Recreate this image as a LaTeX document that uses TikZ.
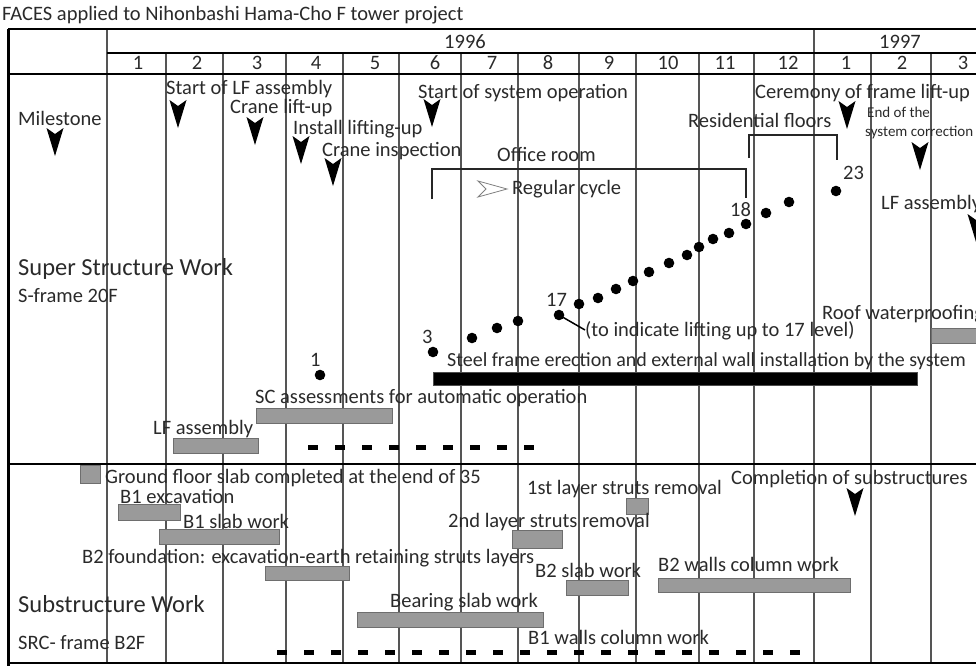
\documentclass[tikz,border=0pt]{standalone}
\usepackage{fontspec}
\setmainfont{Carlito}
\definecolor{barfill}{HTML}{9A9A9A}
\definecolor{barline}{HTML}{6E6E6E}
\definecolor{gridc}{HTML}{555555}
\definecolor{txt}{HTML}{2A2A2A}
\tikzset{
  lbl/.style={anchor=west, inner sep=0pt, text=txt, font=\fontsize{20.5}{24}\selectfont, text height=13.2pt, text depth=0pt},
  ctr/.style={lbl, anchor=center},
  big/.style={lbl, font=\fontsize{24.5}{28}\selectfont, text height=15.8pt},
  small/.style={lbl, font=\fontsize{15}{17}\selectfont, text height=9.7pt},
  gbar/.style={fill=barfill, draw=barline, line width=0.8pt},
  bbar/.style={fill=black, draw=black!70, line width=0.6pt},
  gridv/.style={draw=gridc, line width=1.1pt},
  tabline/.style={draw=black, line width=2.4pt},
  dotn/.style={circle, fill=black, inner sep=0pt, minimum size=10.6pt},
  dashbar/.style={draw=black, line width=5pt, dash pattern=on 10pt off 17pt},
  brk/.style={draw=black!85, line width=1.3pt},
  msarrow/.pic={\fill[black] (-8.5,0) -- (0,6) -- (8.5,0) -- (0,28) -- cycle;}
}
\begin{document}
\begin{tikzpicture}[x=1pt,y=-1pt]
\useasboundingbox (0,0) rectangle (976,666);
% grid
\foreach \x in {166,223,286,343,399,461,518,579,636,699,754,871,931}
  \draw[gridv] (\x,53) -- (\x,663);
\draw[gridv] (107,29) -- (107,663);
\draw[gridv] (814,29) -- (814,663);
\draw[tabline] (8,29) -- (976,29);
\draw[tabline, line width=2pt] (107,53) -- (976,53);
\draw[tabline] (8,74) -- (976,74);
\draw[tabline, line width=2pt] (8,464) -- (976,464);
\draw[tabline, line width=1.5pt] (8,663) -- (976,663);
\draw[tabline, line width=3pt] (8,29) -- (8,666);
% title and header
\node[lbl] (title) at (2,14) {FACES applied to Nihonbashi Hama-Cho F tower project};
\node[ctr] (y96) at (465,42) {1996};
\node[ctr] (y97) at (900,42) {1997};
\foreach \x/\m [count=\i] in {138/1,197/2,257/3,316/4,375/5,435/6,492/7,548/8,609/9,668/10,725/11,788/12,846/1,902/2,963/3}
  \node[ctr] (mon\i) at (\x,63) {\m};
% milestones
\node[lbl] (ms) at (18,119) {Milestone};
\pic (a0) at (55,128) {msarrow};
\node[lbl] (lfs) at (166,88) {Start of LF assembly};
\pic (a1) at (178,100) {msarrow};
\node[lbl] (cl) at (230,107) {Crane lift-up};
\pic (a2) at (255,117) {msarrow};
\node[lbl] (il) at (293,128) {Install lifting-up};
\pic (a3) at (301,136) {msarrow};
\node[lbl] (ci) at (322,150) {Crane inspection};
\pic (a4) at (333,158) {msarrow};
\node[lbl] (so) at (418,92) {Start of system operation};
\pic (a5) at (432,99) {msarrow};
\node[lbl] (cer) at (755,92) {Ceremony of frame lift-up};
\pic (a6) at (847,101) {msarrow};
\node[small] (end1) at (867,113) {End of the};
\node[small] (end2) at (865,132) {system correction};
\pic (a7) at (920,142) {msarrow};
\node[lbl] (lfr) at (881,203) {LF assembly};
\pic (a8) at (976,214) {msarrow};
% brackets
\node[lbl] (res) at (688,121) {Residential floors};
\draw[brk] (749,158) -- (749,135) -- (837,135) -- (837,160);
\node[lbl] (off) at (497,155) {Office room};
\draw[brk] (432,199) -- (432,169) -- (746,169) -- (746,198);
\draw[gray, line width=0.8pt] (478,181) -- (507,189) -- (478,197) -- (486,189) -- cycle;
\node[lbl] (reg) at (512,188) {Regular cycle};
% super structure labels
\node[big] (ssw) at (18,268) {Super Structure Work};
\node[lbl] (sf) at (18,296) {S-frame 20F};
% floor dots
\foreach \x/\y [count=\i] in {320/375,433/352,472/338,497/328,518/321,559/315,579/304,598/298,616/289,633/281,649/272,669/263,687/255,699/247,713/239,729/233,746/224,766/213,789/202,836/191}
  \node[dotn] (d\i) at (\x,\y) {};
\node[lbl] (n23) at (843,173) {23};
\node[lbl] (n18) at (730,210) {18};
\node[lbl] (n17) at (546,300) {17};
\node[lbl] (n3) at (422,337) {3};
\node[lbl] (n1) at (310,360) {1};
\node[lbl] (lvl) at (585,330) {(to indicate lifting up to 17 level)};
\draw[line width=1.5pt] (d6.center) -- (lvl.west);
\node[lbl] (roof) at (822,313) {Roof waterproofing};
\draw[gbar] (931,328) rectangle (990,343);
\node[lbl, font=\fontsize{20}{24}\selectfont] (steel) at (447,360) {Steel frame erection and external wall installation by the system};
\draw[bbar] (433,372) rectangle (917,385);
\node[lbl] (sc) at (255,397) {SC assessments for automatic operation};
\draw[gbar] (256,408) rectangle (392,423);
\node[lbl] (lfl) at (153,428) {LF assembly};
\draw[gbar] (173,438) rectangle (258,453);
\draw[dashbar] (308,447) -- (535,447);
% substructure
\draw[gbar] (80,465) rectangle (100,483);
\node[lbl] (gf) at (105,477) {Ground floor slab completed at the end of 35};
\node[lbl] (b1e) at (120,497) {B1 excavation};
\draw[gbar] (118,504) rectangle (180,520);
\node[lbl] (b1s) at (183,522) {B1 slab work};
\draw[gbar] (159,529) rectangle (279,544);
\node[lbl] (b2f) at (82,557) {B2 foundation: excavation-earth retaining struts layers};
\draw[gbar] (265,566) rectangle (349,580);
\node[big] (subw) at (18,605) {Substructure Work};
\node[lbl] (src) at (18,643) {SRC- frame B2F};
\node[lbl] (bear) at (390,601) {Bearing slab work};
\draw[gbar] (357,612) rectangle (543,627);
\node[lbl] (b1w) at (528,638) {B1 walls column work};
\draw[dashbar] (277,652) -- (800,652);
\node[lbl] (st1) at (527,488) {1st layer struts removal};
\draw[gbar] (626,498) rectangle (648,514);
\node[lbl] (st2) at (448,521) {2nd layer struts removal};
\draw[gbar] (512,530) rectangle (562,548);
\node[lbl] (b2s) at (535,571) {B2 slab work};
\draw[gbar] (566,580) rectangle (628,595);
\node[lbl] (b2w) at (658,565) {B2 walls column work};
\draw[gbar] (658,578) rectangle (850,592);
\node[lbl] (comp) at (731,478) {Completion of substructures};
\pic (a9) at (855,488) {msarrow};
\end{tikzpicture}
\end{document}
